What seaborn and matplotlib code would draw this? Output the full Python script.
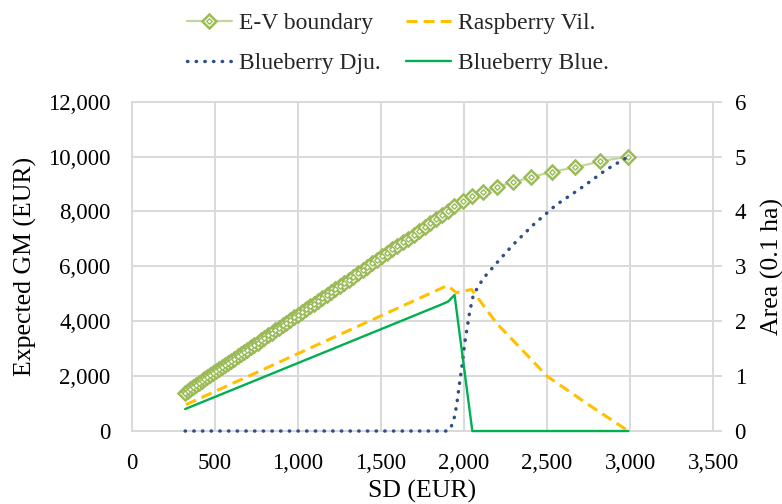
import pandas as pd
import matplotlib
matplotlib.use("Agg")
import matplotlib.pyplot as plt
from matplotlib.ticker import FuncFormatter
from matplotlib.legend_handler import HandlerTuple
import seaborn as sns


# values

# E-V boundary (left axis, EUR)
ev_sd = [320, 336, 352, 369, 385, 402, 419, 436, 453, 470,
         488, 506, 524, 542, 560, 579, 598, 617, 636, 655,
         675, 695, 715, 735, 756, 777, 798, 819, 841, 863,
         885, 907, 930, 953, 976, 999, 1023, 1047, 1071, 1096,
         1121, 1146, 1172, 1198, 1224, 1251, 1278, 1305, 1333, 1361,
         1389, 1418, 1447, 1477, 1507, 1537, 1568, 1599, 1631, 1663,
         1696, 1729, 1763, 1797, 1832, 1867, 1903,
         1940, 1993, 2050, 2114, 2198, 2294, 2405, 2531, 2671, 2822, 2990]
ev_gm = [1400, 1470, 1530, 1600, 1670, 1740, 1810, 1880, 1960, 2030,
         2100, 2180, 2250, 2330, 2400, 2480, 2560, 2640, 2720, 2800,
         2880, 2970, 3050, 3130, 3220, 3310, 3400, 3490, 3580, 3670,
         3760, 3850, 3950, 4050, 4140, 4240, 4340, 4440, 4540, 4640,
         4750, 4850, 4960, 5070, 5180, 5290, 5400, 5520, 5630, 5750,
         5870, 5990, 6110, 6240, 6360, 6490, 6620, 6750, 6880, 7010,
         7150, 7290, 7430, 7570, 7720, 7870, 8020,
         8200, 8390, 8570, 8720, 8900, 9060, 9250, 9450, 9610, 9830, 10000]

# areas (right axis, 0.1 ha)
vil_sd = [325, 1899, 1955, 2045, 2200, 2350, 2500, 2740, 2990]
vil_area = [0.48, 2.65, 2.52, 2.58, 1.95, 1.48, 1.00, 0.50, 0.0]

dju_sd = [320, 1903, 1923, 1943, 1957, 1973, 1990, 2004, 2020, 2034,
          2054, 2084, 2124, 2214, 2294, 2415, 2555, 2716, 2856, 2990]
dju_area = [0, 0, 0.08, 0.26, 0.50, 0.87, 1.23, 1.60, 1.90, 2.17,
            2.45, 2.63, 2.81, 3.12, 3.39, 3.75, 4.12, 4.45, 4.76, 5.0]

blue_sd = [320, 1860, 1905, 1943, 2050, 2990]
blue_area = [0.40, 2.30, 2.36, 2.48, 0.0, 0.0]

x_ticks = [0, 500, 1000, 1500, 2000, 2500, 3000, 3500]
gm_ticks = [0, 2000, 4000, 6000, 8000, 10000, 12000]
area_ticks = [0, 1, 2, 3, 4, 5, 6]


sns.set_theme(style="white")
plt.rcParams["font.family"] = ["Liberation Serif", "DejaVu Serif"]

GRID = "#D9D9D9"
EV_MARK = "#9BBB59"

fig, ax = plt.subplots(figsize=(7.82, 5.04), dpi=100)
fig.subplots_adjust(left=0.1688, right=0.9118, top=0.7982, bottom=0.1448)
ax2 = ax.twinx()

# E-V boundary : light line + double diamond markers
sns.lineplot(x=ev_sd, y=ev_gm, ax=ax, color="#C4D79B", lw=1.6, marker="D",
             markersize=7.6, markerfacecolor="white", markeredgecolor=EV_MARK,
             markeredgewidth=1.8, estimator=None)
ax.plot(ev_sd, ev_gm, ls="none", marker="D", ms=2.8, mfc="white",
        mec=EV_MARK, mew=1.0)
ev_line, ev_inner = ax.lines[0], ax.lines[1]

# crops on the secondary axis (drawn above the spines so the zero runs show)
sns.lineplot(x=vil_sd, y=vil_area, ax=ax2, color="#FFC000", lw=2.2,
             linestyle=(0, (3.6, 2.0)), estimator=None, clip_on=False, zorder=3)
sns.lineplot(x=dju_sd, y=dju_area, ax=ax2, color="#2F4F8A", lw=2.5,
             linestyle=(0, (0.1, 2.4)), dash_capstyle="round", estimator=None,
             clip_on=False, zorder=3)
sns.lineplot(x=blue_sd, y=blue_area, ax=ax2, color="#00B050", lw=1.7,
             estimator=None, clip_on=False, zorder=3)
vil_line, dju_line, blue_line = ax2.lines[0], ax2.lines[1], ax2.lines[2]

ax.set_xlim(0, 3500)
ax.set_ylim(0, 12000)
ax2.set_ylim(0, 6)
ax.set_xticks(x_ticks)
ax.set_yticks(gm_ticks)
ax2.set_yticks(area_ticks)
comma = FuncFormatter(lambda v, p: f"{v:,.0f}")
ax.xaxis.set_major_formatter(comma)
ax.yaxis.set_major_formatter(comma)

ax.grid(True, color=GRID, lw=1.4)
ax2.grid(False)
for a in (ax, ax2):
    for s in a.spines.values():
        s.set_color(GRID)
        s.set_linewidth(1.4)
for side in ("left", "bottom", "top"):
    ax2.spines[side].set_visible(False)

ax.tick_params(axis="both", length=0, pad=15.5, labelsize=16.5, labelcolor="black")
ax2.tick_params(axis="y", length=6.5, width=1.4, color=GRID, pad=9,
                labelsize=16.5, labelcolor="black")

ax.set_xlabel("SD (EUR)", fontsize=18.5, color="black", va="center")
ax.xaxis.set_label_coords(0.5, -0.182)
ax.set_ylabel("Expected GM (EUR)", fontsize=18.5, color="black", va="center")
ax.yaxis.set_label_coords(-0.184, 0.5)
ax2.set_ylabel("Area (0.1 ha)", fontsize=18.5, color="black", va="center", rotation=90)
ax2.yaxis.set_label_coords(1.1015, 0.5)

handles = [(ev_line, ev_inner), dju_line, vil_line, blue_line]
labels = ["E-V boundary", "Blueberry Dju.", "Raspberry Vil.", "Blueberry Blue."]
fig.legend(handles, labels, loc="center", bbox_to_anchor=(0.509, 0.9137),
           ncol=2, frameon=False, fontsize=17, handlelength=1.9,
           handletextpad=0.3, columnspacing=1.1, labelspacing=0.8,
           handler_map={tuple: HandlerTuple(ndivide=1)})

fig.savefig("out.png", dpi=100)
